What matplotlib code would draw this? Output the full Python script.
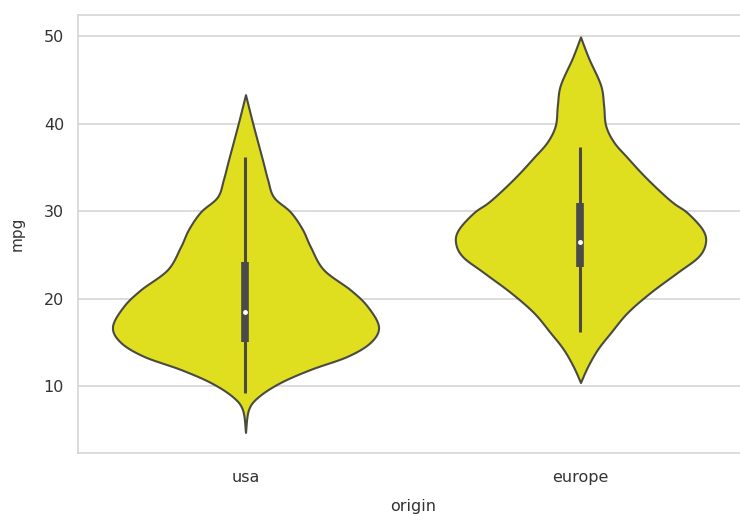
import numpy as np
import matplotlib
matplotlib.use("Agg")
import matplotlib.pyplot as plt
import seaborn as sns

# categories on the x axis
origins = ["usa", "europe"]

# violin outline: mpg value and half width (category units)
usa_mpg = [4.7, 7.3, 8.8, 10.4, 11.9, 13.4, 15.0, 16.8, 19.1, 21.0, 23.3,
           25.9, 27.9, 29.9, 31.6, 33.6, 35.8, 40.1, 43.3]
usa_half = [0.0, 0.009, 0.039, 0.104, 0.194, 0.304, 0.373, 0.397, 0.364,
            0.313, 0.233, 0.194, 0.170, 0.134, 0.084, 0.066, 0.051,
            0.021, 0.0]

eu_mpg = [10.4, 12.2, 14.2, 16.1, 18.4, 20.7, 23.0, 24.8, 26.4, 27.9, 29.8,
          30.9, 32.2, 34.1, 36.1, 37.9, 39.8, 42.1, 44.4, 47.5, 49.9]
eu_half = [0.0, 0.021, 0.051, 0.090, 0.140, 0.209, 0.290, 0.352, 0.373,
           0.364, 0.319, 0.278, 0.239, 0.188, 0.140, 0.099, 0.075, 0.069,
           0.060, 0.024, 0.0]

# inner box: whisker low, q1, median, q3, whisker high
usa_box = [9.2, 15.0, 18.5, 24.2, 36.2]
eu_box = [16.2, 23.6, 26.5, 30.9, 37.3]


def smooth(y, w, n=16):
    # catmull-rom through the read points, only to draw a rounded outline
    p = np.column_stack([y, w])
    p = np.vstack([p[0], p, p[-1]])
    t = np.linspace(0, 1, n, endpoint=False)[:, None]
    out = []
    for k in range(1, len(p) - 2):
        p0, p1, p2, p3 = p[k - 1], p[k], p[k + 1], p[k + 2]
        seg = 0.5 * (2 * p1 + (-p0 + p2) * t
                     + (2 * p0 - 5 * p1 + 4 * p2 - p3) * t ** 2
                     + (-p0 + 3 * p1 - 3 * p2 + p3) * t ** 3)
        out.append(seg)
    out.append(p[-2][None, :])
    out = np.vstack(out)
    return out[:, 0], np.clip(out[:, 1], 0, None)


sns.set_style("whitegrid")
fill = "#dfdf20"
edge = "#4a4a40"

fig = plt.figure(figsize=(7.4, 5.14), dpi=100)
ax = fig.add_axes([0.1054, 0.1187, 0.9054, 0.8521])

profiles = [(usa_mpg, usa_half, usa_box), (eu_mpg, eu_half, eu_box)]
for i, (mpg, half, box) in enumerate(profiles):
    y, w = smooth(mpg, half)
    ax.fill_betweenx(y, i - w, i + w, facecolor=fill, edgecolor=edge,
                     linewidth=1.5, zorder=2)
    ax.plot([i, i], [box[0], box[4]], color=edge, lw=2.2,
            solid_capstyle="butt", zorder=3)
    ax.plot([i, i], [box[1], box[3]], color="#4a4a4a", lw=5.5,
            solid_capstyle="butt", zorder=3)
    ax.plot(i, box[2], "o", color="white", markersize=2.5, zorder=4)

ax.set_xlim(-0.5, 1.5)
ax.set_ylim(2.35, 52.4)
ax.set_xticks(range(len(origins)))
ax.set_xticklabels(origins)
ax.set_yticks([10, 20, 30, 40, 50])
ax.tick_params(axis="both", labelsize=11.5, colors="#333333", length=0)
ax.tick_params(axis="y", pad=10)
ax.tick_params(axis="x", pad=12)
ax.set_xlabel("origin", fontsize=11.5, color="#333333", labelpad=10)
ax.set_ylabel("mpg", fontsize=11, color="#333333", labelpad=14)
ax.grid(axis="x", visible=False)
ax.grid(axis="y", color="#d5d5d5", lw=1.2)
for s in ax.spines.values():
    s.set_color("#d5d5d5")
    s.set_linewidth(1.2)

fig.savefig("out.png", dpi=100)
